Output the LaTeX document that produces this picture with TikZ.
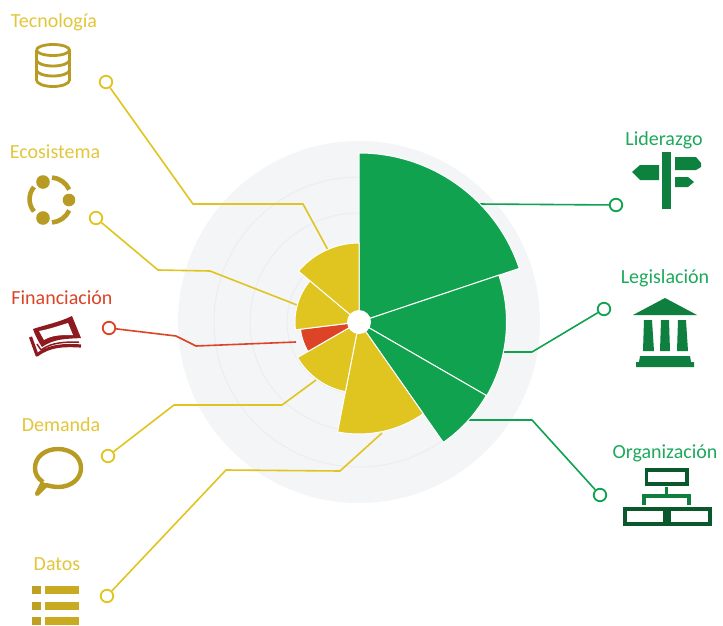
\documentclass[tikz,border=0pt]{standalone}
\usepackage{fontspec}
\setmainfont{Carlito}
\definecolor{yel}{HTML}{E0C420}
\definecolor{ytxt}{HTML}{E3C63A}
\definecolor{gold}{HTML}{B89B22}
\definecolor{grn}{HTML}{10A24E}
\definecolor{gtxt}{HTML}{1DA95C}
\definecolor{dgrn}{HTML}{0E7F3F}
\definecolor{red1}{HTML}{DC4327}
\definecolor{dred}{HTML}{8E1A20}
\definecolor{bgc}{HTML}{F4F5F7}
\definecolor{ring}{HTML}{ECEDEF}
\tikzset{
  lab/.style={font=\fontsize{20}{22}\selectfont,inner sep=0pt,anchor=center},
  dot/.style={circle,draw=#1,fill=white,line width=1.8pt,minimum size=12.5pt,inner sep=0pt},
  wire/.style={draw=#1,line width=1.6pt,line join=round},
  sect/.style={fill=#1,draw=white,line width=1pt,line join=miter},
}
\newcommand{\sector}[4]{% colour, compass from, compass to, radius
  \pgfmathsetmacro{\aa}{90-#2}\pgfmathsetmacro{\bb}{90-#3}
  \path[sect=#1] (359,-322) -- ++(\aa:#4pt) arc[start angle=\aa,end angle=\bb,radius=#4pt] -- cycle;}
\begin{document}
\begin{tikzpicture}[x=1pt,y=1pt]
\useasboundingbox (0,-626) rectangle (723,0);
\fill[white] (0,-626) rectangle (723,0);
% background
\fill[bgc] (359,-322) circle[radius=181pt];
\draw[ring,line width=1pt] (359,-322) circle[radius=72pt];
\draw[ring,line width=1pt] (359,-322) circle[radius=109pt];
\draw[ring,line width=1pt] (359,-322) circle[radius=145pt];
% end points in chart
\coordinate (tecA) at (328,-250);
\coordinate (ecoA) at (297,-305);
\coordinate (finA) at (296,-342);
\coordinate (demA) at (316,-380);
\coordinate (datA) at (382,-433);
\coordinate (lidA) at (478,-204);
\coordinate (legA) at (502,-352);
\coordinate (orgA) at (468,-420);
% dots
\node[dot=yel] (tecD) at (106,-82) {};
\node[dot=yel] (ecoD) at (96,-218) {};
\node[dot=red1] (finD) at (109,-328) {};
\node[dot=yel] (demD) at (108,-456) {};
\node[dot=yel] (datD) at (107,-596) {};
\node[dot=grn] (lidD) at (616,-205) {};
\node[dot=grn] (legD) at (604,-309) {};
\node[dot=grn] (orgD) at (600,-495) {};
% connectors
\draw[wire=yel] (tecD) -- (193,-204) -- (303,-204) -- (tecA);
\draw[wire=yel] (ecoD) -- (158,-270) -- (210,-271) -- (ecoA);
\draw[wire=red1] (finD) -- (176,-336) -- (196,-346) -- (finA);
\draw[wire=yel] (demD) -- (174,-405) -- (282,-405) -- (demA);
\draw[wire=yel] (datD) -- (226,-470) -- (340,-471) -- (datA);
\draw[wire=grn] (lidD) -- (lidA);
\draw[wire=grn] (legD) -- (532,-352) -- (legA);
\draw[wire=grn] (orgD) -- (532,-420) -- (orgA);
% sectors
\sector{grn}{0}{71.5}{169}
\sector{grn}{71.5}{120}{147.5}
\sector{grn}{120}{145}{147}
\sector{yel}{145}{191}{112}
\sector{yel}{191}{240}{71}
\sector{red1}{240}{263}{59}
\sector{yel}{263}{310}{64}
\sector{yel}{310}{360}{79}
\fill[white] (359,-322) circle[radius=12pt];
% labels
\node[lab,text=ytxt] (tecL) at (54,-22) {Tecnología};
\node[lab,text=ytxt] (ecoL) at (55,-152) {Ecosistema};
\node[lab,text=red1] (finL) at (62,-298) {Financiación};
\node[lab,text=ytxt] (demL) at (61,-425) {Demanda};
\node[lab,text=ytxt] (datL) at (57,-564) {Datos};
\node[lab,text=gtxt] (lidL) at (664,-140) {Liderazgo};
\node[lab,text=gtxt] (legL) at (665,-278) {Legislación};
\node[lab,text=gtxt] (orgL) at (665,-453) {Organización};
% database icon
\begin{scope}[draw=gold,line width=2.8pt]
  \draw (36.5,-50) arc[start angle=180,end angle=540,x radius=16.5pt,y radius=5.5pt];
  \draw (36.5,-50) -- (36.5,-80) arc[start angle=180,end angle=360,x radius=16.5pt,y radius=6.5pt] -- (69.5,-50);
  \draw (36.5,-60) arc[start angle=180,end angle=360,x radius=16.5pt,y radius=6pt];
  \draw (36.5,-70) arc[start angle=180,end angle=360,x radius=16.5pt,y radius=6pt];
\end{scope}
% ecosystem icon
\fill[gold] (43,-182) circle[radius=6.8pt] (69,-200) circle[radius=6.3pt] (43,-218) circle[radius=6.8pt];
\begin{scope}[draw=gold,line width=4.6pt]
  \draw (52,-177.5) arc[start angle=85,end angle=25,radius=21pt];
  \draw (52,-222.5) arc[start angle=-85,end angle=-25,radius=21pt];
  \draw (34,-187) arc[start angle=140,end angle=220,radius=19pt];
\end{scope}
% money icon
\begin{scope}[line join=round]
  \fill[dred] (33,-329) .. controls (45,-325) and (60,-322) .. (72,-316) -- (81,-338) .. controls (68,-339) and (55,-338) .. (42,-347) .. controls (38,-341) and (35,-335) .. (33,-329) -- cycle;
  \fill[white] (39,-331) .. controls (50,-329) and (58,-326) .. (68,-323) -- (73,-335) .. controls (62,-335) and (52,-335) .. (44,-340) .. controls (42,-337) and (41,-334) .. (39,-331) -- cycle;
  \draw[dred,line width=3.2pt] (30.5,-337) -- (37,-355) .. controls (50,-345) and (65,-345) .. (81,-346);
  \draw[dred,line width=1.5pt] (37,-344) -- (41,-350) .. controls (52,-342) and (65,-342) .. (79,-342);
\end{scope}
% speech bubble icon
\draw[gold,line width=4.4pt,line join=round] (43,-482) .. controls (37,-478) and (35,-473) .. (35,-468) .. controls (35,-457) and (45,-449) .. (58,-449) .. controls (71,-449) and (81,-457) .. (81,-468) .. controls (81,-479) and (71,-487) .. (58,-487) .. controls (54,-487) and (50,-486) .. (46,-485) -- (37,-494) -- (43,-482);
% list icon
\foreach \yy in {-590,-606,-621}{
  \fill[gold!85!yel] (32,\yy+4) rectangle (41,\yy-3.5);
  \fill[gold!60!yel] (45,\yy+4) rectangle (79,\yy-3.5);
}
% signpost icon
\fill[dgrn] (662,-152) rectangle (671,-209);
\fill[grn!80!black] (659,-165) -- (659,-180) -- (640,-180) -- (632,-172) -- (640,-165) -- cycle;
\fill[grn!80!black] (675,-157) -- (696,-157) -- (701,-163) -- (701,-167) -- (696,-170) -- (675,-170) -- cycle;
\fill[grn!80!black] (675,-177) -- (688,-177) -- (694,-182) -- (688,-187) -- (675,-187) -- cycle;
% temple icon
\fill[dgrn] (633,-315) -- (665,-298) -- (697,-315) -- cycle;
\fill[dgrn] (644,-320) -- (652,-320) -- (654,-351) -- (643,-351) -- cycle;
\fill[dgrn] (661,-320) -- (669,-320) -- (670,-351) -- (660,-351) -- cycle;
\fill[dgrn] (678,-320) -- (686,-320) -- (688,-351) -- (677,-351) -- cycle;
\fill[dgrn] (640,-356) -- (690,-356) -- (691,-362) -- (694,-362) -- (694,-367) -- (636,-367) -- (636,-362) -- (639,-362) -- cycle;
% organisation icon
\begin{scope}[draw=dgrn!70!black,line width=3.2pt]
  \draw (646.5,-470) rectangle (687,-484);
  \draw (625,-509) rectangle (665,-524);
  \draw (669,-509) rectangle (710,-524);
  \draw[dgrn] (666.5,-487) -- (666.5,-496) (644,-505) -- (644,-496) -- (689,-496) -- (689,-505);
\end{scope}
\end{tikzpicture}
\end{document}
